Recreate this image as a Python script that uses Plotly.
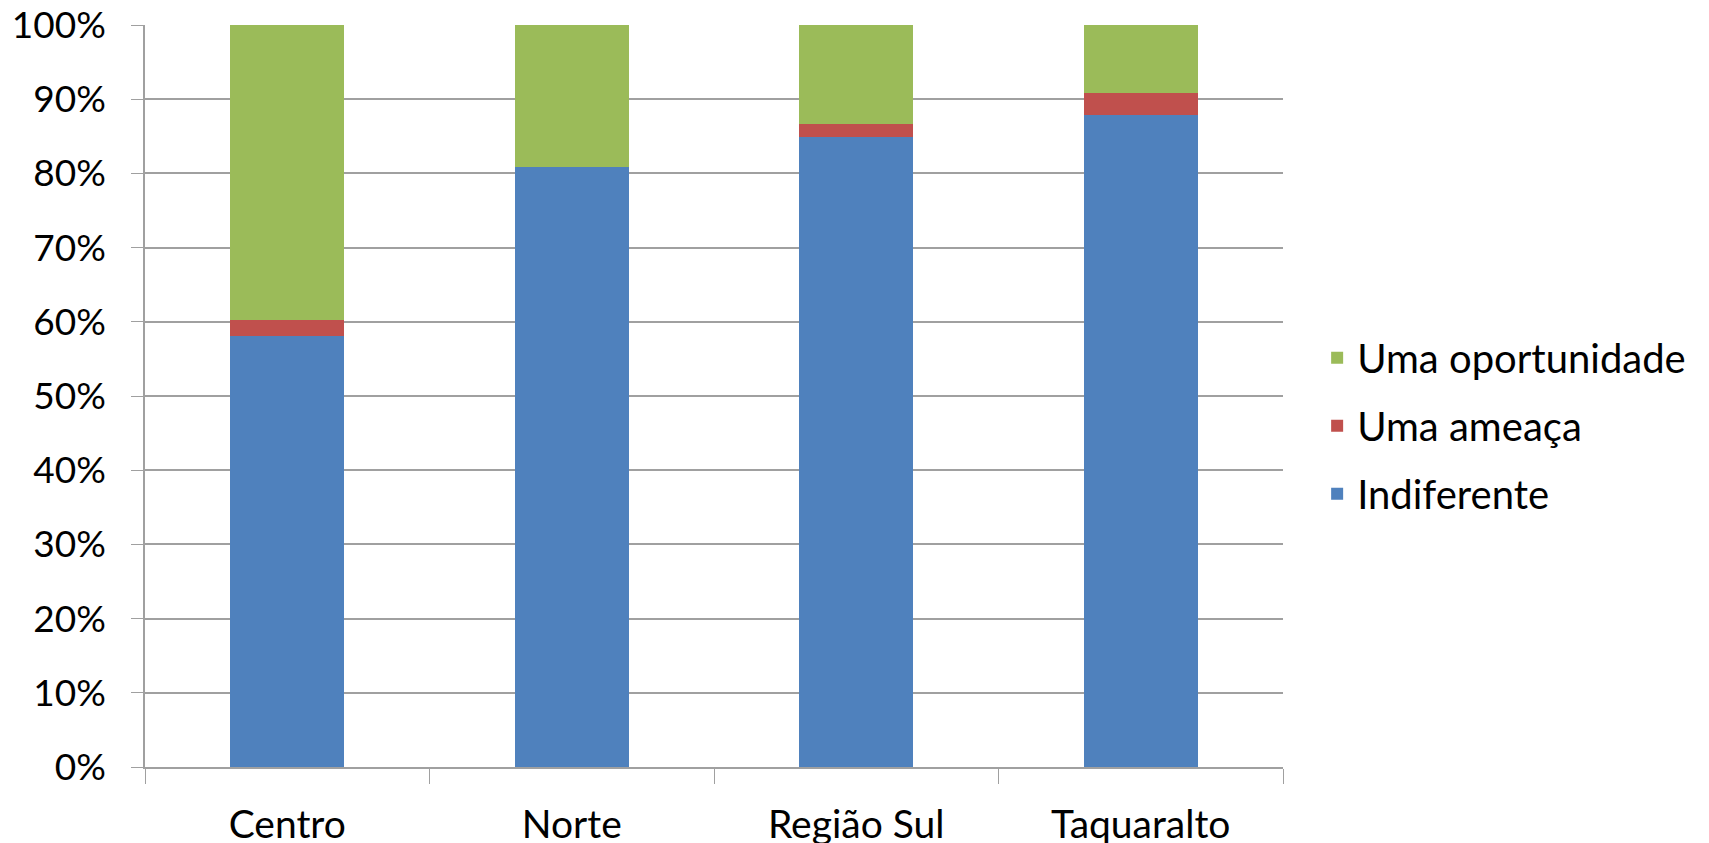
import plotly.graph_objects as go

categories = ["Centro", "Norte", "Região Sul", "Taquaralto"]
indiferente = [0.581, 0.808, 0.849, 0.879]
ameaca = [0.022, 0.0, 0.018, 0.030]
oportunidade = [0.397, 0.192, 0.133, 0.091]

series = [
    ("Indiferente", indiferente, "#4F81BD", 3),
    ("Uma ameaça", ameaca, "#C0504D", 2),
    ("Uma oportunidade", oportunidade, "#9BBB59", 1),
]

fig = go.Figure()
for name, vals, color, rank in series:
    fig.add_trace(go.Bar(x=categories, y=vals, name=name, marker_color=color,
                         marker_line_width=0, hoverinfo="skip",
                         legendgroup=name, legendrank=rank))

font = "Lato, 'Open Sans', sans-serif"
# page body has an 8px default margin; size the figure to fit the window
fig.update_layout(
    barmode="stack",
    bargap=0.6,
    width=1701, height=835,
    margin=dict(l=137, r=426, t=17, b=76),
    plot_bgcolor="white", paper_bgcolor="white",
    font=dict(family=font, size=37, color="black"),
    legend=dict(traceorder="grouped", x=1.03, y=0.46, yanchor="middle",
                xanchor="left", font=dict(size=40), itemwidth=30,
                tracegroupgap=13, bgcolor="rgba(0,0,0,0)"),
    showlegend=True,
)
fig.update_yaxes(range=[0, 1], dtick=0.1, tickformat=".0%",
                 showgrid=True, gridcolor="#A0A0A0", gridwidth=1.5,
                 showline=True, linecolor="#A0A0A0", linewidth=1.5,
                 ticks="outside", ticklen=12, tickcolor="#A0A0A0",
                 zeroline=False, ticklabelstandoff=18, automargin=False,
                 ticklabeloverflow="allow", tickfont=dict(size=37))
fig.update_xaxes(showline=True, linecolor="#A0A0A0", linewidth=1.5,
                 ticks="outside", ticklen=15, tickcolor="#A0A0A0",
                 tickson="boundaries", mirror=False, ticklabelstandoff=22,
                 automargin=False, ticklabeloverflow="allow",
                 tickfont=dict(size=39))

fig.write_html("out.html")
